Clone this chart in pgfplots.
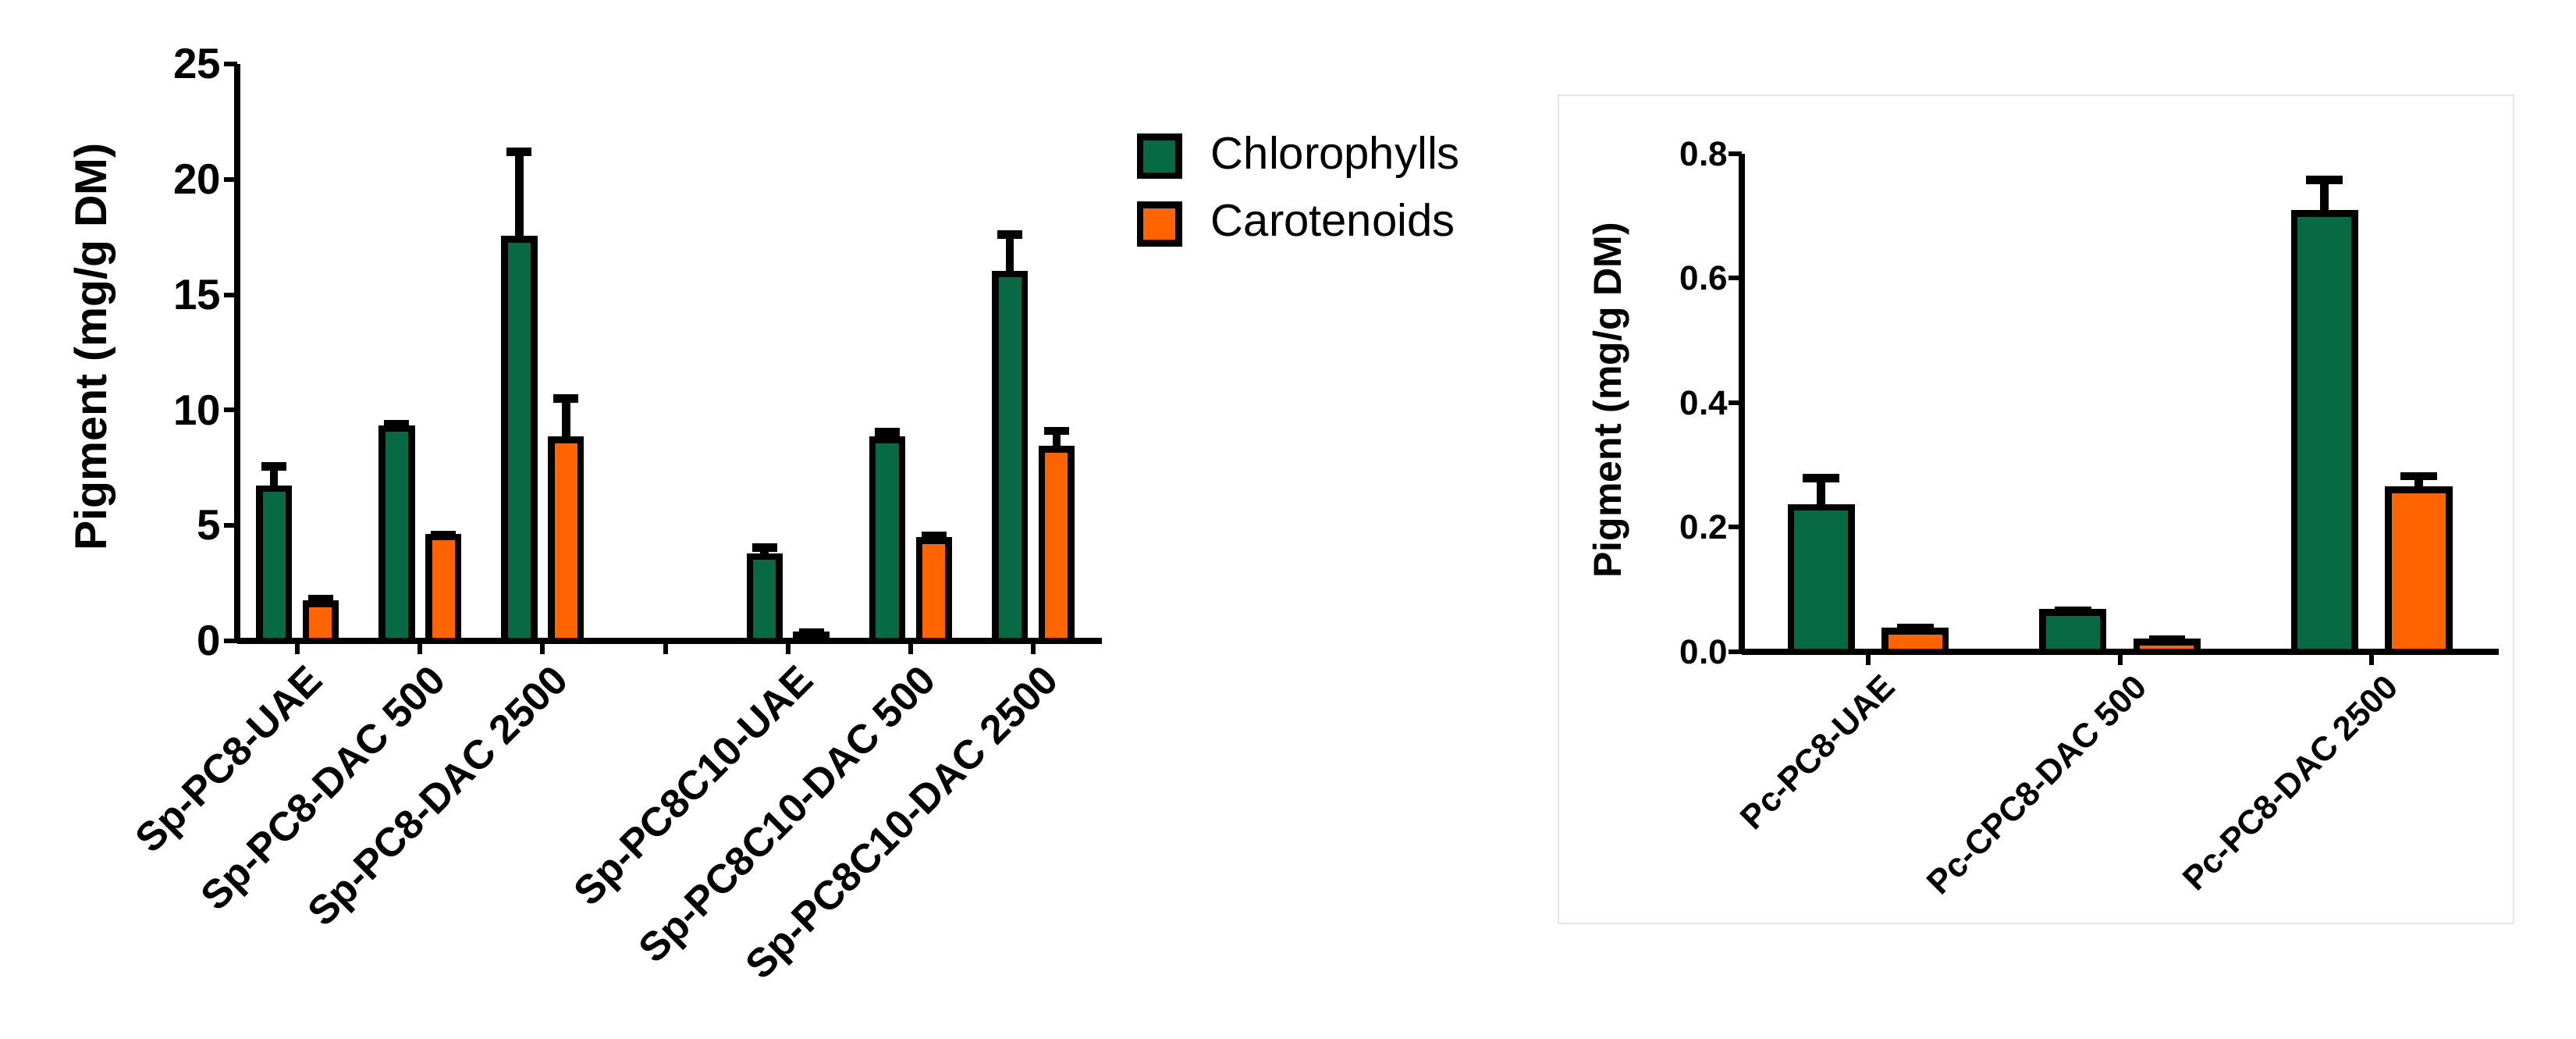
\documentclass[border=0pt]{standalone}
\usepackage{pgfplots}
\pgfplotsset{compat=1.18}
\usepackage{pgfplotstable}
\usepackage{fontspec}
\setmainfont{Liberation Sans}
\definecolor{chl}{RGB}{7,106,69}
\definecolor{car}{RGB}{255,100,0}
\definecolor{framegray}{RGB}{230,230,230}

% xc / xk: bar centres of the two series (category index -/+ 0.19)
\pgfplotstableread{
x xc xk chl chle car care
0 -0.19 0.19 6.6 0.95 1.6 0.2
1 0.81 1.19 9.2 0.2 4.5 0.1
2 1.81 2.19 17.4 3.8 8.7 1.8
4 3.81 4.19 3.65 0.4 0.25 0.12
5 4.81 5.19 8.7 0.35 4.35 0.2
6 5.81 6.19 15.9 1.7 8.3 0.8
}\leftdata
\pgfplotstableread{
x xc xk chl chle car care
0 -0.187 0.187 0.232 0.047 0.033 0.005
1 0.813 1.187 0.063 0.003 0.016 0.003
2 1.813 2.187 0.704 0.054 0.260 0.022
}\rightdata

\pgfplotsset{
  mystyle/.style={
    scale only axis,
    axis lines=left,
    axis line style={-, line width=1.3pt},
    tick align=outside,
    major tick length=2.5pt,
    every tick/.style={black, line width=0.9pt},
    ymin=0,
    /pgf/number format/assume math mode=true,
    clip=false,
  },
  mybar/.style 2 args={
    ybar, bar width=0.24, bar shift=0, fill=#1, draw=black, line width=1.3pt,
    error bars/y dir=plus, error bars/y explicit,
    error bars/error mark=|,
    error bars/error bar style={line width=1.6pt, black},
    error bars/error mark options={line width=1.6pt, black, mark size=#2},
    legend image code/.code={\draw[fill=#1, draw=black, line width=1.3pt] (0pt,-3.7pt) rectangle (7.4pt,3.7pt);},
  },
}
\begin{document}
\begin{tikzpicture}
\path[use as bounding box] (0,0) rectangle (495.15pt,199.65pt);
\draw[framegray, line width=0.4pt] (299.55pt,22.2pt) rectangle (483.15pt,181.35pt);
\begin{axis}[mystyle,
  at={(45.6pt,76.5pt)}, anchor=south west,
  width=166.2pt, height=110.85pt,
  xmin=-0.49, xmax=6.56, ymax=25,
  ytick={0,5,...,25},
  xtick={0,...,6},
  xticklabels={Sp-PC8-UAE,Sp-PC8-DAC 500,Sp-PC8-DAC 2500,{},Sp-PC8C10-UAE,Sp-PC8C10-DAC 500,Sp-PC8C10-DAC 2500},
  xticklabel style={font=\fontsize{7.8}{8}\selectfont\bfseries, rotate=45, anchor=east, inner sep=0pt, yshift=-5.8pt},
  yticklabel style={font=\fontsize{8.2}{9}\selectfont\bfseries, inner sep=0pt, xshift=-0.4pt},
  ylabel={Pigment (mg/g DM)},
  every axis y label/.style={at={(axis description cs:-0.164,0.509)}, rotate=90, anchor=center, font=\fontsize{8.6}{10}\selectfont\bfseries},
  legend style={draw=none, fill=none, at={(axis description cs:1.039,0.895)}, anchor=north west, inner sep=0pt, font=\fontsize{8.7}{10}\selectfont, row sep=1.2pt, column sep=3.6pt},
  legend cell align=left,
]
\addplot[mybar={chl}{2.4pt}] table[x=xc, y=chl, y error=chle] {\leftdata};
\addlegendentry{Chlorophylls}
\addplot[mybar={car}{2.4pt}] table[x=xk, y=car, y error=care] {\leftdata};
\addlegendentry{Carotenoids}
\end{axis}
\begin{axis}[mystyle,
  at={(334.8pt,74.4pt)}, anchor=south west,
  width=145.5pt, height=95.7pt,
  xmin=-0.502, xmax=2.505, ymax=0.8,
  ytick={0,0.2,...,0.8},
  yticklabel style={font=\fontsize{6.6}{8}\selectfont\bfseries, inner sep=0pt, /pgf/number format/.cd, fixed, fixed zerofill, precision=1},
  xtick={0,1,2},
  xticklabels={Pc-PC8-UAE,Pc-CPC8-DAC 500,Pc-PC8-DAC 2500},
  xticklabel style={font=\fontsize{6.5}{7}\selectfont\bfseries, rotate=45, anchor=east, inner sep=0pt, yshift=-5pt, xshift=0.8pt},
  ylabel={Pigment (mg/g DM)},
  every axis y label/.style={at={(axis description cs:-0.173,0.505)}, rotate=90, anchor=center, font=\fontsize{7.5}{9}\selectfont\bfseries},
]
\addplot[mybar={chl}{3.5pt}] table[x=xc, y=chl, y error=chle] {\rightdata};
\addplot[mybar={car}{3.5pt}] table[x=xk, y=car, y error=care] {\rightdata};
\end{axis}
\end{tikzpicture}
\end{document}
